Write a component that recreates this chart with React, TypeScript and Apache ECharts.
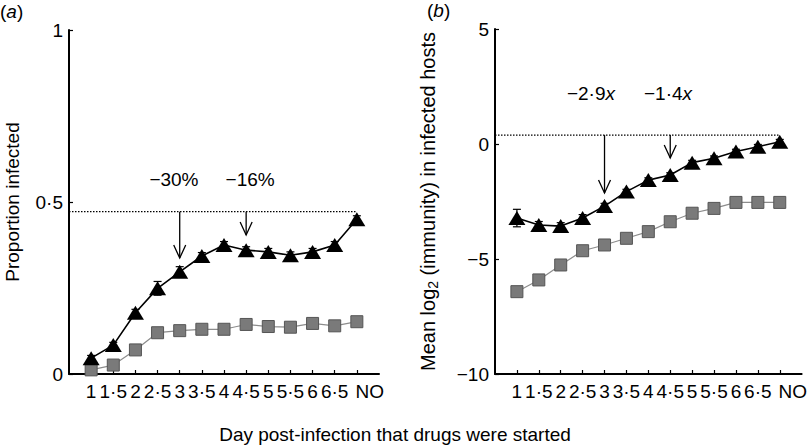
import React, { useEffect, useRef } from "react";
import * as echarts from "echarts";

const categories = ["1", "1·5", "2", "2·5", "3", "3·5", "4", "4·5", "5", "5·5", "6", "6·5", "NO"];
const propTriangle = [0.046, 0.084, 0.178, 0.249, 0.297, 0.343, 0.375, 0.36, 0.355, 0.345, 0.355, 0.375, 0.45];
const propTriangleErr = [0.008, 0.008, 0.01, 0.02, 0.015, 0.01, 0.01, 0.01, 0.01, 0.01, 0.01, 0.01, 0.01];
const propSquare = [0.012, 0.026, 0.07, 0.12, 0.126, 0.13, 0.13, 0.144, 0.138, 0.136, 0.147, 0.14, 0.152];
const propBaseline = 0.472;
const propArrows = [
  { at: "3", tip: 0.337, label: "−30%", labelAt: 4.74, labelY: 0.564 },
  { at: "4·5", tip: 0.404, label: "−16%", labelAt: 8.18, labelY: 0.564 },
];

const immTriangle = [-3.22, -3.52, -3.57, -3.22, -2.7, -2.07, -1.57, -1.35, -0.81, -0.62, -0.33, -0.12, 0.1];
const immTriangleErr = [0.38, 0.15, 0.15, 0.15, 0.12, 0.1, 0.1, 0.1, 0.1, 0.1, 0.1, 0.1, 0.1];
const immSquare = [-6.42, -5.91, -5.26, -4.64, -4.39, -4.1, -3.81, -3.38, -3.01, -2.8, -2.54, -2.54, -2.54];
const immBaseline = 0.39;
const immArrows = [
  { at: "3", tip: -2.13, label: "−2·9{i|x}", labelAt: 4.38, labelY: 2.2 },
  { at: "4·5", tip: -0.61, label: "−1·4{i|x}", labelAt: 7.9, labelY: 2.2 },
];

const propTicks = [0, 0.5, 1];
const immTicks = [-10, -5, 0, 5];

const FONT = "'Liberation Sans', Arial, Helvetica, sans-serif";

const xPos = (i: number) => i + 1;
const xOf = (cat: string) => categories.indexOf(cat) + 1;

function makeXAxis(gridIndex: number) {
  const vals = categories.map((_, i) => xPos(i));
  return {
    type: "value",
    gridIndex,
    min: 0,
    max: categories.length + 1,
    interval: 1,
    splitLine: { show: false },
    axisLine: { onZero: false, lineStyle: { color: "#000", width: 2 } },
    axisTick: { inside: true, length: 4, lineStyle: { color: "#000", width: 1.2 }, customValues: vals },
    axisLabel: {
      color: "#000",
      fontSize: 19,
      fontFamily: FONT,
      margin: 8,
      showMinLabel: true,
      showMaxLabel: true,
      rich: { no: { fontSize: 19, fontFamily: FONT, color: "#000", padding: [0, 0, 0, 26] } },
      formatter: (v: number) => {
        const i = Math.round(v) - 1;
        if (i === categories.length - 1) return "{no|" + categories[i] + "}";
        return i >= 0 && i < categories.length ? categories[i] : "";
      },
    },
  };
}

function makeYAxis(gridIndex: number, ticks: number[], name: string, nameGap: number, rich: any) {
  return {
    type: "value",
    gridIndex,
    min: ticks[0],
    max: ticks[ticks.length - 1],
    interval: ticks[1] - ticks[0],
    splitLine: { show: false },
    axisLine: { onZero: false, lineStyle: { color: "#000", width: 2 } },
    axisTick: { inside: true, length: 4, lineStyle: { color: "#000", width: 1.2 } },
    axisLabel: {
      color: "#000",
      fontSize: 19,
      fontFamily: FONT,
      margin: 6,
      formatter: (v: number) => String(v).replace(".", "·").replace("-", "−"),
    },
    name,
    nameLocation: "middle",
    nameRotate: 90,
    nameGap,
    nameTextStyle: { color: "#000", fontSize: 19, fontFamily: FONT, rich },
  };
}

function seriesFor(gi: number, tri: number[], triErr: number[], sq: number[], baseline: number, arrows: any[]) {
  const list: any[] = [];
  list.push({
    type: "line",
    xAxisIndex: gi,
    yAxisIndex: gi,
    data: [
      [0, baseline],
      [categories.length, baseline],
    ],
    symbol: "none",
    lineStyle: { color: "#000", width: 1.2, type: [1.5, 1.5] },
    silent: true,
    z: 1,
  });
  list.push({
    type: "custom",
    xAxisIndex: gi,
    yAxisIndex: gi,
    data: tri.map((v, i) => [xPos(i), v - triErr[i], v + triErr[i]]),
    encode: { x: 0, y: [1, 2] },
    z: 2,
    renderItem: (params: any, api: any) => {
      const lo = api.coord([api.value(0), api.value(1)]);
      const hi = api.coord([api.value(0), api.value(2)]);
      return {
        type: "group",
        children: [
          { type: "line", shape: { x1: lo[0], y1: lo[1], x2: hi[0], y2: hi[1] }, style: { stroke: "#000", lineWidth: 1.2 } },
          { type: "line", shape: { x1: lo[0] - 4, y1: lo[1], x2: lo[0] + 4, y2: lo[1] }, style: { stroke: "#000", lineWidth: 1.2 } },
          { type: "line", shape: { x1: hi[0] - 4, y1: hi[1], x2: hi[0] + 4, y2: hi[1] }, style: { stroke: "#000", lineWidth: 1.2 } },
        ],
      };
    },
  });
  list.push({
    type: "line",
    xAxisIndex: gi,
    yAxisIndex: gi,
    data: sq.map((v, i) => [xPos(i), v]),
    symbol: "rect",
    symbolSize: 12,
    itemStyle: { color: "#7a7a7a", borderColor: "#555", borderWidth: 1 },
    lineStyle: { color: "#8c8c8c", width: 1.2 },
    z: 3,
  });
  list.push({
    type: "line",
    xAxisIndex: gi,
    yAxisIndex: gi,
    data: tri.map((v, i) => [xPos(i), v]),
    symbol: "triangle",
    symbolSize: [17, 14],
    itemStyle: { color: "#000" },
    lineStyle: { color: "#000", width: 1.6 },
    z: 4,
  });
  list.push({
    type: "custom",
    xAxisIndex: gi,
    yAxisIndex: gi,
    data: arrows.map((a) => [xOf(a.at), baseline, a.tip, a.labelAt, a.labelY]),
    encode: { x: 0, y: [1, 2] },
    z: 5,
    renderItem: (params: any, api: any) => {
      const a = arrows[params.dataIndex];
      const top = api.coord([api.value(0), api.value(1)]);
      const tip = api.coord([api.value(0), api.value(2)]);
      const lab = api.coord([api.value(3), api.value(4)]);
      return {
        type: "group",
        children: [
          { type: "line", shape: { x1: top[0], y1: top[1], x2: tip[0], y2: tip[1] }, style: { stroke: "#000", lineWidth: 1.3 } },
          {
            type: "polyline",
            shape: { points: [[tip[0] - 6, tip[1] - 13], [tip[0], tip[1]], [tip[0] + 6, tip[1] - 13]] },
            style: { stroke: "#000", lineWidth: 1.3, fill: "none" },
          },
          {
            type: "text",
            x: lab[0],
            y: lab[1],
            style: {
              text: a.label,
              fill: "#000",
              fontSize: 19,
              fontFamily: FONT,
              align: "center",
              verticalAlign: "middle",
              rich: { i: { fontStyle: "italic", fontSize: 19, fontFamily: FONT, fill: "#000" } },
            },
          },
        ],
      };
    },
  });
  return list;
}

export default function App() {
  const ref = useRef<HTMLDivElement>(null);
  useEffect(() => {
    if (!ref.current) return;
    const chart = echarts.init(ref.current, null, { renderer: "svg" });
    const italic = { i: { fontStyle: "italic", fontSize: 19, fontFamily: FONT, color: "#000" } };
    chart.setOption({
      animation: false,
      backgroundColor: "#fff",
      grid: [
        { left: 69, top: 30, width: 310, height: 344 },
        { left: 495, top: 29, width: 310, height: 345 },
      ],
      xAxis: [makeXAxis(0), makeXAxis(1)],
      yAxis: [
        makeYAxis(0, propTicks, "Proportion infected", 47, {}),
        makeYAxis(1, immTicks, "{t|Mean log}{s|2}{t| (immunity) in infected hosts}", 55, {
          t: { fontSize: 20, fontFamily: FONT, color: "#000" },
          s: { fontSize: 14, fontFamily: FONT, color: "#000", padding: [11, 0, 0, 0] },
        }),
      ],
      series: [
        ...seriesFor(0, propTriangle, propTriangleErr, propSquare, propBaseline, propArrows),
        ...seriesFor(1, immTriangle, immTriangleErr, immSquare, immBaseline, immArrows),
      ],
      graphic: [
        {
          type: "text",
          left: 0,
          top: 2,
          style: { text: "({i|a})", fontSize: 19, fontFamily: FONT, fill: "#000", rich: italic },
        },
        {
          type: "text",
          left: 427,
          top: 1,
          style: { text: "({i|b})", fontSize: 19, fontFamily: FONT, fill: "#000", rich: italic },
        },
        {
          type: "text",
          x: 395,
          y: 434,
          style: {
            text: "Day post-infection that drugs were started",
            fontSize: 19,
            fontFamily: FONT,
            fill: "#000",
            align: "center",
            verticalAlign: "middle",
          },
        },
      ],
    });
    return () => chart.dispose();
  }, []);
  return <div ref={ref} style={{ position: "fixed", left: 0, top: 0, width: 810, height: 447 }} />;
}
